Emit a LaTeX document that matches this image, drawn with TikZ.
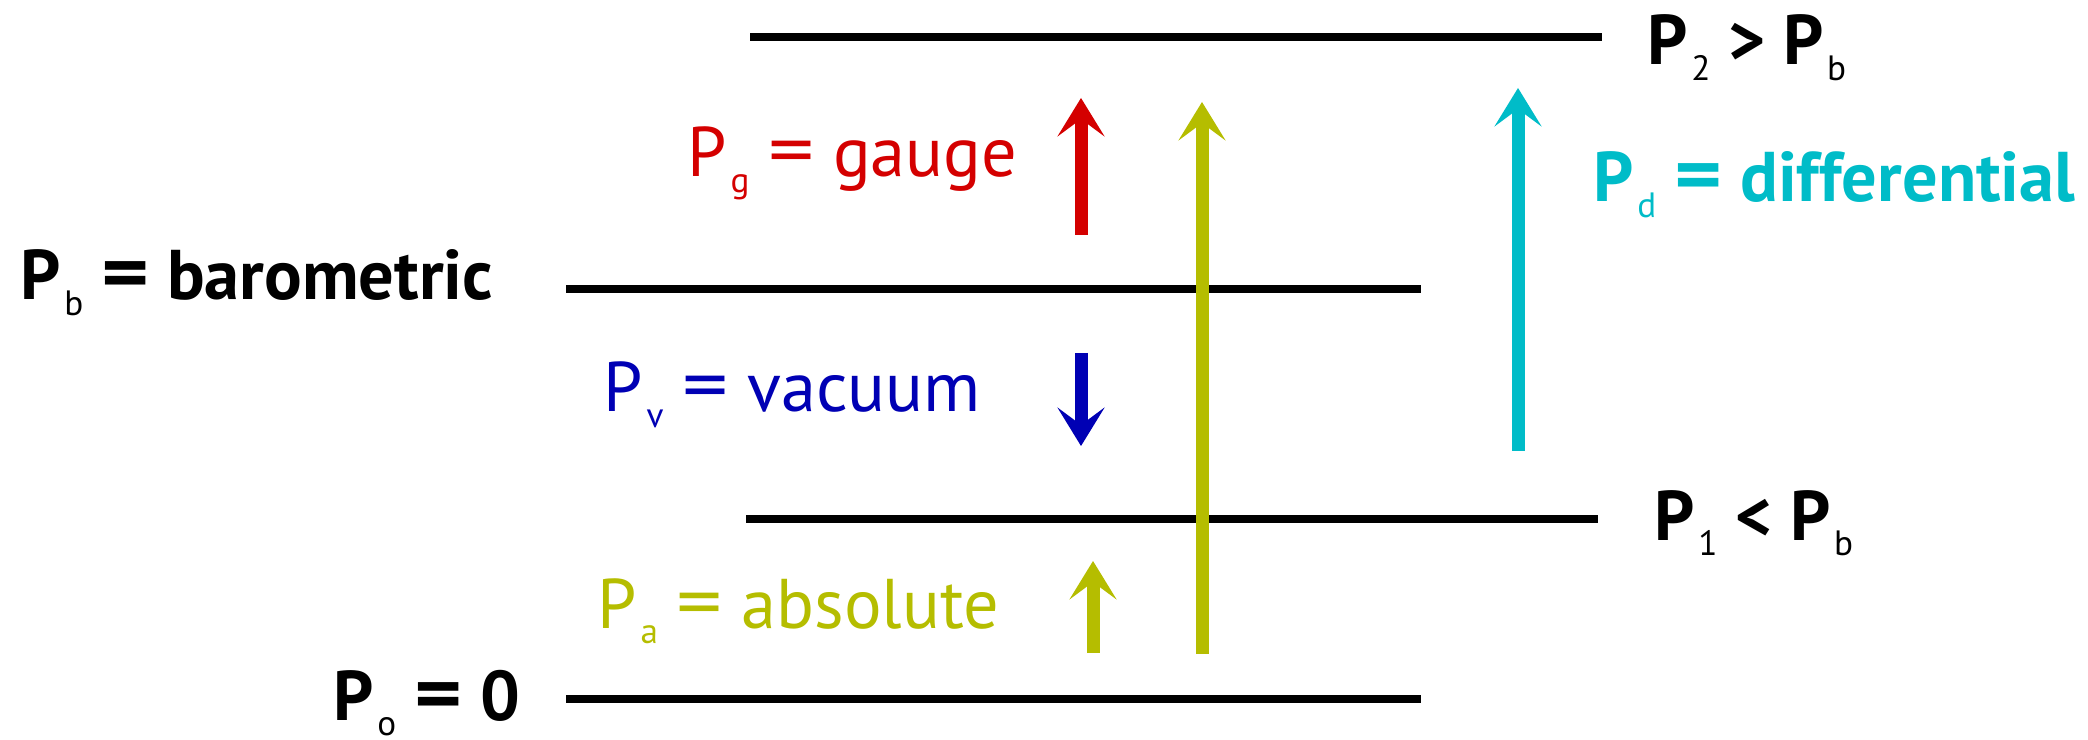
\documentclass[tikz,border=0pt]{standalone}
\usepackage{fontspec}
\setmainfont{PT Sans}
\usetikzlibrary{arrows.meta,positioning}
\definecolor{gaugered}{RGB}{212,0,0}
\definecolor{absgreen}{RGB}{181,189,0}
\definecolor{diffcyan}{RGB}{0,188,200}
\definecolor{vacblue}{RGB}{0,0,180}
\newcommand{\sbs}[1]{\kern1pt\raisebox{-4.3pt}{\fontsize{10}{10}\selectfont\mdseries #1}}
\newcommand{\eqs}{\scalebox{1.3}[1.1]{=}}

\begin{document}
\begin{tikzpicture}[x=0.01cm, y=-0.01cm,
            level/.style={line width=2pt, black},
            arrow/.style={line width=3.7pt, -{Stealth[length=11pt, width=13.5pt, inset=5pt, line width=0pt]}},
            lbl/.style={anchor=base west, inner sep=0pt, font=\fontsize{20}{24}\selectfont},
            boldlbl/.style={lbl, font=\fontsize{20}{24}\selectfont\bfseries}
        ]
            \useasboundingbox (0,0) rectangle (2088,740);
            % pressure levels
            \draw[level] (750,37) -- (1602,37);
            \draw[level] (566,289) -- (1421,289);
            \draw[level] (746,519) -- (1598,519);
            \draw[level] (566,699) -- (1421,699);
            % labels
            \node[boldlbl] (p2) at (1647,65) {P\sbs{2} > P\sbs{b}};
            \node[boldlbl] (pb) at (20,300) {P\sbs{b} \eqs{} barometric};
            \node[boldlbl] (p1) at (1654,540) {P\sbs{1} < P\sbs{b}};
            \node[boldlbl] (p0) at (333,720) {P\sbs{o} \eqs{} 0};
            \node[lbl, text=gaugered] (pg) at (687,177) {P\sbs{g} \eqs{} gauge};
            \node[boldlbl, text=diffcyan] (pd) at (1593,202) {P\sbs{d} \eqs{} differential};
            \node[lbl, text=vacblue] (pv) at (603,412) {P\sbs{v} \eqs{} vacuum};
            \node[lbl, text=absgreen] (pa) at (597,628) {P\sbs{a} \eqs{} absolute};
            % arrow ends
            \coordinate (g-s) at (1081,235);
            \coordinate (g-e) at (1081,98);
            \coordinate (v-s) at (1081,353);
            \coordinate (v-e) at (1081,446);
            \coordinate (a-s) at (1093,653);
            \coordinate (a-e) at (1093,561);
            \coordinate (al-s) at (1202,654);
            \coordinate (al-e) at (1202,102);
            \coordinate (d-s) at (1518,451);
            \coordinate (d-e) at (1518,88);
            \draw[arrow, gaugered] (g-s) -- (g-e);
            \draw[arrow, vacblue] (v-s) -- (v-e);
            \draw[arrow, absgreen] (a-s) -- (a-e);
            \draw[arrow, absgreen] (al-s) -- (al-e);
            \draw[arrow, diffcyan] (d-s) -- (d-e);
        \end{tikzpicture}
\end{document}
